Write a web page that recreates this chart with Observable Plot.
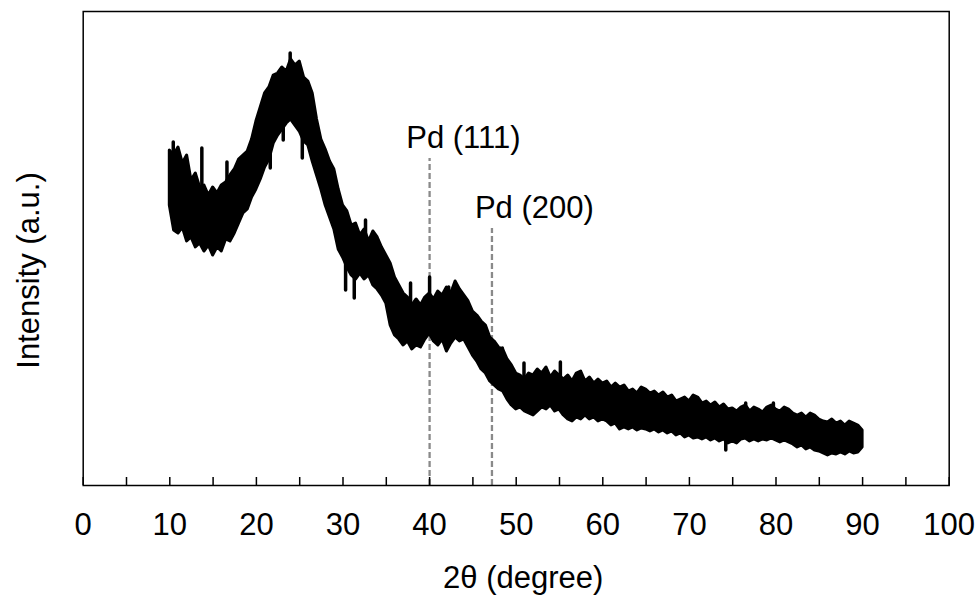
<!DOCTYPE html>
<html>
<head>
<meta charset="utf-8">
<script src="https://cdn.jsdelivr.net/npm/d3@7"></script>
<script src="https://cdn.jsdelivr.net/npm/@observablehq/plot@0.6"></script>
<style>
  html, body { margin: 0; padding: 0; background: #fff; }
  #chart { width: 979px; height: 600px; }
</style>
</head>
<body>
<div id="chart"></div>
<script>
// 2θ sampling positions (degree), every 0.5° from 10 to 90
const twoTheta = d3.range(10, 90.001, 0.5);
// upper edge of the noisy intensity band (a.u.)
const upper = [
  335,330,338,322,330,305,312,298,300,290, 298,292,300,303,310,316,326,330,334,346,
  364,378,392,398,410,412,418,414,426,420, 424,408,404,392,366,346,336,324,316,296,
  280,274,260,262,250,256,244,254,248,238, 230,222,208,200,192,188,180,186,180,188,
  192,186,194,190,198,192,204,196,190,184, 174,170,164,160,148,144,138,136,126,120,
  112,110,106,112,110,116,112,118,108,114, 110,106,110,104,112,114,104,108,102,106,
  102,104,98,102,98,100,94,96,92,98, 96,92,94,90,93,88,90,84,86,88,
  84,90,88,82,84,80,83,78,81,76, 77,74,78,80,74,78,76,73,78,80,
  76,74,78,76,72,70,72,68,72,70, 66,64,63,66,62,64,60,64,62,60,
  55
];
// lower edge of the noisy intensity band (a.u.)
const lower = [
  280,255,252,258,244,248,238,242,234,240, 230,238,234,246,244,252,262,272,276,288,
  296,306,318,326,342,350,356,362,366,360, 354,344,340,324,310,296,280,268,256,236,
  228,218,210,206,212,206,210,200,196,190, 182,160,150,146,140,144,136,140,138,146,
  152,144,140,146,134,142,148,144,146,138, 130,124,116,112,104,100,96,94,86,80,
  76,78,74,72,70,74,78,76,80,74, 76,70,66,64,68,66,70,66,68,64,
  66,64,60,62,56,58,56,58,55,57, 56,54,56,53,55,52,54,50,52,48,
  50,47,48,46,48,45,47,44,46,42, 44,42,46,47,44,46,44,46,45,47,
  45,43,45,43,41,38,40,36,38,35, 34,32,30,32,31,33,31,34,32,33,
  38
];

// isolated noise spikes: position, band value, spike tip (a.u.)
const spikeX    = [10.4,13.7,16.6,23.9,32.6,37.8,40.0,42.2,48.4,50.9,55.1,76.5,79.7,21.6,23.1,25.3,30.3,31.3,74.2];
const spikeBase = [300,280,290,400,235,170,170,180,120,95,95,60,60,350,380,370,240,220,60];
const spikeTip  = [343,337,323,432,265,202,208,198,137,122,123,82,82,317,345,327,195,187,35];

// reference peaks (Pd)
const peakNames = ["Pd (111)", "Pd (200)"];
const peakPos   = [40.0, 47.2];
const peakTop   = [327, 257];
const labelX    = [43.9, 52.1];
const labelY    = [338, 268];

const xTicksMajor = d3.range(0, 101, 10);
const xTicksMinor = d3.range(0, 101, 5);

const band = twoTheta.map((x, i) => ({x, hi: upper[i], lo: lower[i]}));
const spikes = spikeX.map((x, i) => ({x, base: spikeBase[i], tip: spikeTip[i]}));
const peaks = peakNames.map((name, i) => ({name, x: peakPos[i], top: peakTop[i], lx: labelX[i], ly: labelY[i]}));

const FONT = "'Liberation Sans', Arial, Helvetica, sans-serif";

const plot = Plot.plot({
  width: 979,
  height: 600,
  marginLeft: 82.7,
  marginRight: 30.3,
  marginTop: 11,
  marginBottom: 115,
  style: {fontFamily: FONT, fontSize: "31px", color: "#000", background: "#fff"},
  x: {domain: [0, 100]},
  y: {domain: [0, 474], axis: null},
  marks: [
    Plot.ruleX(peaks, {x: "x", y1: 0, y2: "top", stroke: "#8a8a8a", strokeWidth: 2.3, strokeDasharray: "6,3"}),
    Plot.areaY(band, {x: "x", y1: "lo", y2: "hi", fill: "#000", stroke: "#000", strokeWidth: 3, strokeLinejoin: "round"}),
    Plot.ruleX(spikes, {x: "x", y1: "base", y2: "tip", stroke: "#000", strokeWidth: 3.5, strokeLinecap: "round"}),
    Plot.text(peaks, {x: "lx", y: "ly", text: "name", textAnchor: "middle", lineAnchor: "bottom", fill: "#000"}),
    Plot.tickX(xTicksMinor, {x: d => d, insetTop: 466, stroke: "#000", strokeWidth: 1.5}),
    Plot.axisX({ticks: xTicksMajor, tickSize: 0, tickPadding: 27, label: null, fill: "#000"}),
    Plot.text(["2θ (degree)"], {frameAnchor: "bottom", dy: 102, dx: 7, lineAnchor: "bottom", fill: "#000"}),
    Plot.text(["Intensity (a.u.)"], {frameAnchor: "left", dx: -54, dy: 22, rotate: -90, textAnchor: "middle", fill: "#000"}),
    Plot.frame({stroke: "#000", strokeWidth: 1.5})
  ]
});
document.getElementById("chart").appendChild(plot);
</script>
</body>
</html>
